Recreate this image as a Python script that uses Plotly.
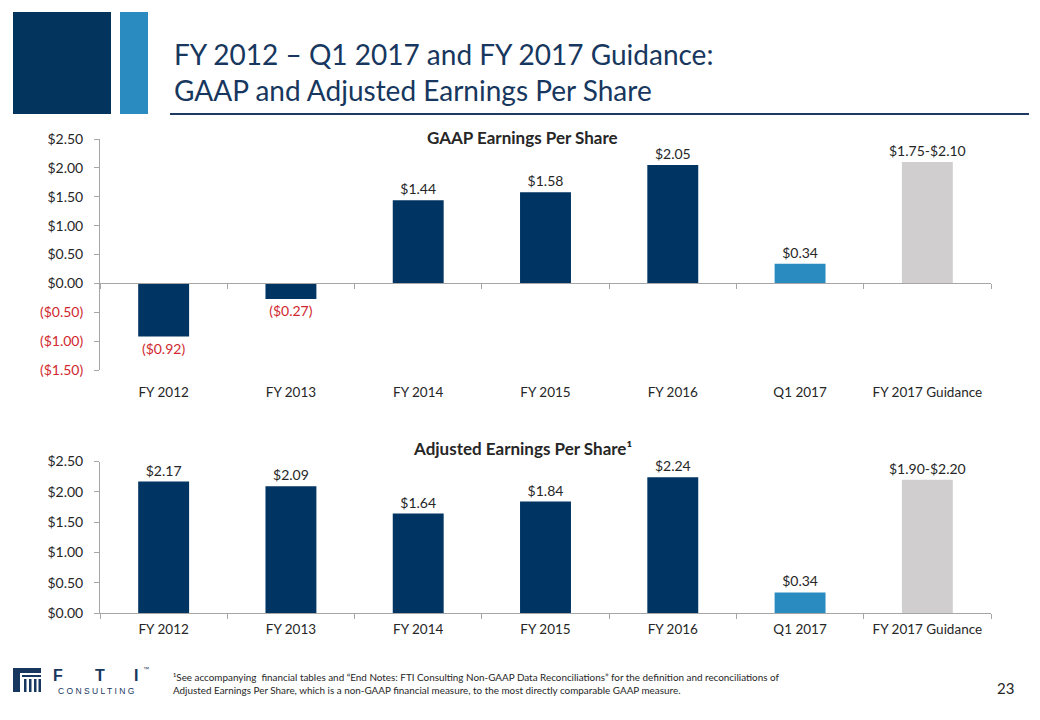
import plotly.graph_objects as go

# ---------------- data ----------------
categories = ["FY 2012", "FY 2013", "FY 2014", "FY 2015", "FY 2016", "Q1 2017", "FY 2017 Guidance"]
gaap_eps = [-0.92, -0.27, 1.44, 1.58, 2.05, 0.34, 2.10]
gaap_labels = ["($0.92)", "($0.27)", "$1.44", "$1.58", "$2.05", "$0.34", "$1.75-$2.10"]
adj_eps = [2.17, 2.09, 1.64, 1.84, 2.24, 0.34, 2.20]
adj_labels = ["$2.17", "$2.09", "$1.64", "$1.84", "$2.24", "$0.34", "$1.90-$2.20"]
top_tickvals = [2.5, 2.0, 1.5, 1.0, 0.5, 0.0, -0.5, -1.0, -1.5]
top_ticktext = ["$2.50", "$2.00", "$1.50", "$1.00", "$0.50", "$0.00", "($0.50)", "($1.00)", "($1.50)"]
bot_tickvals = [2.5, 2.0, 1.5, 1.0, 0.5, 0.0]
bot_ticktext = ["$2.50", "$2.00", "$1.50", "$1.00", "$0.50", "$0.00"]

# ---------------- style ----------------
NAVY = "#003462"
LIGHT = "#2A8BC1"
GREY = "#D0CECE"
RED = "#D0282E"
TXT = "#262626"
TITLE = "#17375E"
AXIS = "#A6A6A6"
FONT = "Lato, Carlito, Calibri, sans-serif"
W, H = 1040, 720

bar_colors = [NAVY] * 5 + [LIGHT, GREY]


def px(x):
    return x / W


def py(y):
    return 1 - y / H


def tick_html(vals, texts):
    return [f"<span style='color:{RED}'>{t}</span>" if v < 0 else t for v, t in zip(vals, texts)]


fig = go.Figure()

fig.add_trace(go.Bar(
    x=categories, y=gaap_eps, xaxis="x", yaxis="y",
    marker=dict(color=bar_colors, line=dict(width=0)),
    width=0.4,
    text=gaap_labels, textposition="outside", cliponaxis=False, constraintext="none",
    textfont=dict(family=FONT, size=14, color=[RED if v < 0 else TXT for v in gaap_eps]),
    showlegend=False, hoverinfo="skip",
))
# invisible trace carrying the zero-level category axis (boundary ticks)
fig.add_trace(go.Bar(x=categories, y=[None] * len(categories), xaxis="x3", yaxis="y",
                     showlegend=False, hoverinfo="skip"))

fig.add_trace(go.Bar(
    x=categories, y=adj_eps, xaxis="x2", yaxis="y2",
    marker=dict(color=bar_colors, line=dict(width=0)),
    width=0.4,
    text=adj_labels, textposition="outside", cliponaxis=False, constraintext="none",
    textfont=dict(family=FONT, size=14, color=TXT),
    showlegend=False, hoverinfo="skip",
))

xdom = [px(100), px(991)]
top_dom = [py(370), py(139)]
bot_dom = [py(613), py(461.5)]
zero_top = py(139 + 2.5 * (370 - 139) / 4)

fig.update_layout(
    width=W, height=H, autosize=False,
    margin=dict(l=0, r=0, t=0, b=0, pad=0),
    paper_bgcolor="white", plot_bgcolor="white",
    font=dict(family=FONT, color=TXT, size=13),
    bargap=0.6,
    xaxis=dict(domain=xdom, anchor="y", type="category", showline=False, ticks="",
               showgrid=False, zeroline=False, tickfont=dict(size=13.5, color=TXT),
               ticklabelstandoff=12, automargin=False),
    xaxis3=dict(domain=xdom, overlaying="x", anchor="free", position=zero_top, type="category",
                showline=True, linecolor=AXIS, linewidth=1, ticks="outside", ticklen=5,
                tickcolor=AXIS, tickson="boundaries", showticklabels=False, showgrid=False,
                zeroline=False, automargin=False),
    yaxis=dict(domain=top_dom, anchor="x", range=[-1.5, 2.5], tickvals=top_tickvals,
               ticktext=tick_html(top_tickvals, top_ticktext), showline=True, linecolor=AXIS,
               ticks="outside", ticklen=5, tickcolor=AXIS, showgrid=False, zeroline=False,
               tickfont=dict(size=14, color=TXT), ticklabelstandoff=8, automargin=False),
    xaxis2=dict(domain=xdom, anchor="y2", type="category", showline=True, linecolor=AXIS,
                ticks="outside", ticklen=5, tickcolor=AXIS, tickson="boundaries",
                showgrid=False, zeroline=False, tickfont=dict(size=13.5, color=TXT),
                ticklabelstandoff=4, automargin=False),
    yaxis2=dict(domain=bot_dom, anchor="x2", range=[0, 2.5], tickvals=bot_tickvals,
                ticktext=bot_ticktext, showline=True, linecolor=AXIS, ticks="outside", ticklen=5,
                tickcolor=AXIS, showgrid=False, zeroline=False,
                tickfont=dict(size=14, color=TXT), ticklabelstandoff=8, automargin=False),
)

P = dict(xref="paper", yref="paper")
LOGO = "#17375E"
shapes = [
    # header logo blocks
    dict(type="rect", **P, x0=px(13), x1=px(111), y0=py(114), y1=py(12),
         fillcolor="#03345E", line=dict(width=0)),
    dict(type="rect", **P, x0=px(120), x1=px(148), y0=py(114), y1=py(12),
         fillcolor="#2A8BC1", line=dict(width=0)),
    # title rule
    dict(type="line", **P, x0=px(170), x1=px(1029), y0=py(114), y1=py(114),
         line=dict(color="#1F3A5F", width=2)),
    # footer logo: pillar icon
    dict(type="rect", **P, x0=px(13), x1=px(41), y0=py(673), y1=py(668),
         fillcolor=LOGO, line=dict(width=0)),
    dict(type="rect", **P, x0=px(13), x1=px(20), y0=py(692), y1=py(668),
         fillcolor=LOGO, line=dict(width=0)),
    dict(type="rect", **P, x0=px(22), x1=px(41), y0=py(677), y1=py(675),
         fillcolor=LOGO, line=dict(width=0)),
]
for x0 in [24, 29, 34, 38.5]:
    shapes.append(dict(type="rect", **P, x0=px(x0), x1=px(x0 + 2.5),
                       y0=py(692), y1=py(679), fillcolor=LOGO, line=dict(width=0)))
fig.update_layout(shapes=shapes)

annotations = [
    dict(text="FY 2012 – Q1 2017 and FY 2017 Guidance:<br>GAAP and Adjusted Earnings Per Share",
         x=px(172), y=py(72), xanchor="left", yanchor="middle", showarrow=False, align="left",
         font=dict(family=FONT, size=28, color=TITLE)),
    dict(text="<b>GAAP Earnings Per Share</b>", x=px(522), y=py(137), xanchor="center",
         yanchor="middle", showarrow=False, font=dict(family=FONT, size=17, color=TXT)),
    dict(text="<b>Adjusted Earnings Per Share¹</b>", x=px(522), y=py(448), xanchor="center",
         yanchor="middle", showarrow=False, font=dict(family=FONT, size=17, color=TXT)),
    dict(text="¹See accompanying  financial tables and “End Notes: FTI Consulting Non-GAAP Data Reconciliations” for the definition and reconciliations of<br>Adjusted Earnings Per Share, which is a non-GAAP financial measure, to the most directly comparable GAAP measure.",
         x=px(171), y=py(683), xanchor="left", yanchor="middle", showarrow=False, align="left",
         font=dict(family=FONT, size=9.9, color=TXT)),
    dict(text="23", x=px(1016), y=py(688), xanchor="right", yanchor="middle", showarrow=False,
         font=dict(family=FONT, size=15, color=TXT)),
    dict(text="C O N S U L T I N G", x=px(95.5), y=py(691), xanchor="center", yanchor="middle",
         showarrow=False, font=dict(family="Liberation Sans, sans-serif", size=8.5, color=LOGO)),
    dict(text="™", x=px(146), y=py(669), xanchor="center", yanchor="middle",
         showarrow=False, font=dict(family="Liberation Sans, sans-serif", size=6, color=LOGO)),
]
for letter, lx in [("F", 57.5), ("T", 99.5), ("I", 135.5)]:
    annotations.append(dict(text=f"<b>{letter}</b>", x=px(lx), y=py(675), xanchor="center",
                            yanchor="middle", showarrow=False,
                            font=dict(family="Liberation Sans, sans-serif", size=16, color=LOGO)))
for a in annotations:
    a.update(P)
fig.update_layout(annotations=annotations)

fig.write_html("out.html", post_script="document.body.style.margin='0';",
               config={"displayModeBar": False})
